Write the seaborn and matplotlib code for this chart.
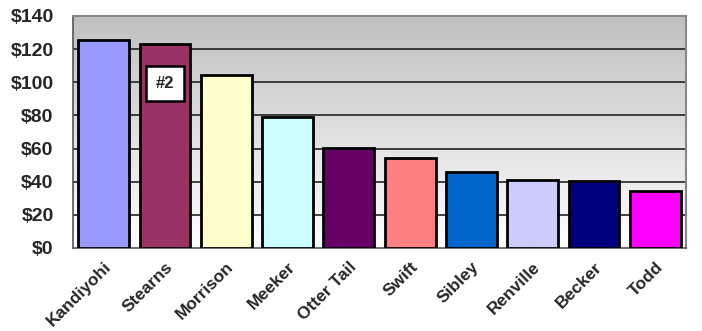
import numpy as np
import pandas as pd
import seaborn as sns
import matplotlib.pyplot as plt
from matplotlib.ticker import FixedLocator

# county values
counties = ["Kandiyohi", "Stearns", "Morrison", "Meeker", "Otter Tail",
            "Swift", "Sibley", "Renville", "Becker", "Todd"]
values = [125.5, 123.0, 104.5, 79.0, 60.3, 54.5, 46.0, 41.3, 40.5, 34.5]
bar_colors = ["#9999FF", "#993366", "#FFFFCC", "#CCFFFF", "#660066",
              "#FF8080", "#0066CC", "#CCCCFF", "#000080", "#FF00FF"]
y_ticks = [0, 20, 40, 60, 80, 100, 120, 140]
rank_label = "#2"
rank_index = 1

df = pd.DataFrame({"county": counties, "value": values})

sns.set_style("white")
plt.rcParams["font.family"] = ["Liberation Sans", "DejaVu Sans"]

fig = plt.figure(figsize=(7.02, 3.31), dpi=100)
ax = fig.add_axes([73 / 702, 1 - 248 / 331, (686 - 73) / 702, (248 - 16) / 331])

# gray-to-white gradient behind the bars
grad = np.linspace(0, 1, 256).reshape(-1, 1)
ax.imshow(grad, cmap=plt.matplotlib.colors.LinearSegmentedColormap.from_list(
    "bg", ["#ffffff", "#c0c0c0"]), aspect="auto", origin="lower",
    extent=[-0.5, len(counties) - 0.5, 0, 140], zorder=0)

sns.barplot(data=df, x="county", y="value", hue="county", palette=bar_colors,
            legend=False, width=0.83, edgecolor="black", linewidth=2,
            saturation=1, ax=ax, zorder=3)

ax.set_xlim(-0.5, len(counties) - 0.5)
ax.set_ylim(0, 140)
ax.set_yticks(y_ticks)
ax.set_yticklabels([f"${v}" for v in y_ticks], fontsize=14, fontweight="bold")
for v in y_ticks[1:-1]:
    ax.axhline(v, color="#222222", linewidth=1.2, zorder=1)

ax.set_xticks(range(len(counties)))
ax.set_xticklabels(counties, rotation=45, ha="right", rotation_mode="anchor",
                   fontsize=12.5, fontweight="bold")
ax.tick_params(axis="x", which="major", length=0, pad=8)
ax.xaxis.set_minor_locator(FixedLocator(np.arange(-0.5, len(counties), 1.0)))
ax.tick_params(axis="x", which="minor", length=5, color="#555555", width=1.2)
ax.tick_params(axis="y", length=4, color="#222222", pad=10)
ax.set_xlabel("")
ax.set_ylabel("")

for side in ["top", "right"]:
    ax.spines[side].set_color("#888888")
    ax.spines[side].set_linewidth(1.5)
ax.spines["left"].set_color("#555555")
ax.spines["bottom"].set_color("#555555")
ax.spines["left"].set_linewidth(1.2)
ax.spines["bottom"].set_linewidth(1.2)

ax.text(rank_index, 99, rank_label, ha="center", va="center", fontsize=12,
        fontweight="bold", zorder=5,
        bbox=dict(boxstyle="square,pad=0.6", facecolor="white",
                  edgecolor="black", linewidth=1.8))

fig.savefig("out.png", dpi=100)
